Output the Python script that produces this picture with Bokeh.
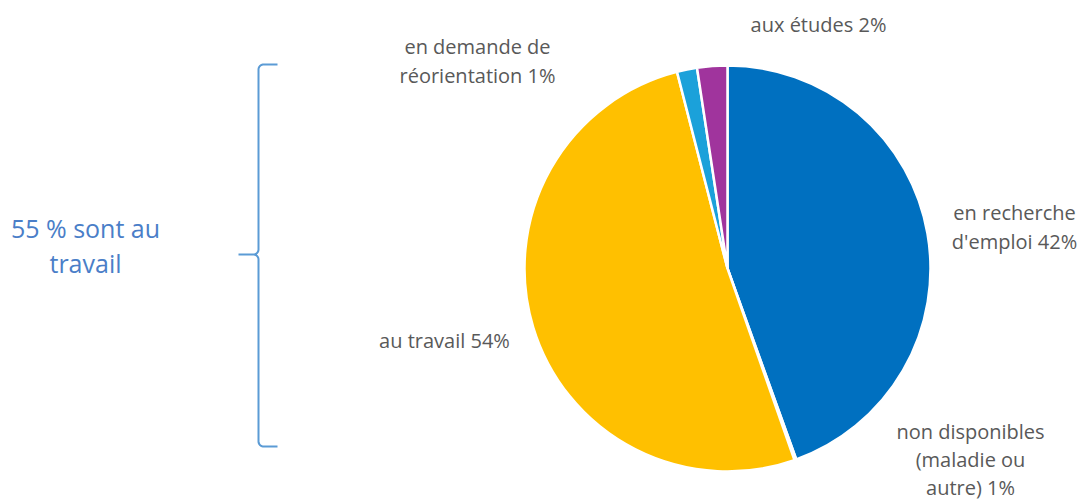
import numpy as np
from bokeh.plotting import figure
from bokeh.models import Range1d, ColumnDataSource
from bokeh.core.properties import value
from bokeh.embed import file_html
from bokeh.resources import INLINE

# ---- data ----
categories = ["en recherche d'emploi", "non disponibles (maladie ou autre)", "au travail",
              "en demande de réorientation", "aux études"]
shares = [44.5, 0.15, 51.35, 1.6, 2.4]
colors = ["#0070C0", "#FFFFFF", "#FFC000", "#1BA1DA", "#A0349D"]
label_lines = [
    ["en recherche", "d'emploi 42%"],
    ["non disponibles", "(maladie ou", "autre) 1%"],
    ["au travail 54%"],
    ["en demande de", "réorientation 1%"],
    ["aux études 2%"],
]
side_note = ["55 % sont au", "travail"]

W, H = 1083, 501
p = figure(width=W, height=H, output_backend="svg", toolbar_location=None,
           x_range=Range1d(0, W), y_range=Range1d(0, H),
           min_border=0)
p.axis.visible = False
p.grid.visible = False
p.outline_line_color = None
p.background_fill_color = "white"


def Y(py):
    return H - py

cx, cy, r = 727, Y(268), 203
vals = np.array(shares, dtype=float)
cum = np.concatenate([[0], np.cumsum(vals)]) / vals.sum() * 2 * np.pi
start = np.pi / 2 - cum[:-1]
end = np.pi / 2 - cum[1:]
src = ColumnDataSource(dict(start=start, end=end, color=colors, cat=categories))
p.wedge(x=cx, y=cy, radius=r, start_angle="start", end_angle="end", direction="clock",
        fill_color="color", line_color="white", line_width=2.5, source=src)

# labels
label_pos = [(1014, 212, 29), (970, 431, 28), (444, 340, 29), (477, 46, 29), (818, 24, 29)]
lx, ly, lt = [], [], []
for lines, (x0, y0, dy) in zip(label_lines, label_pos):
    for i, t in enumerate(lines):
        lx.append(x0)
        ly.append(Y(y0 + i * dy))
        lt.append(t)
p.text(x=lx, y=ly, text=lt, text_align="center", text_baseline="middle",
       text_font=value("Open Sans"), text_font_size="20px", text_color="#595959")

# side note
p.text(x=[85, 85], y=[Y(227), Y(262)], text=side_note, text_align="center",
       text_baseline="middle", text_font=value("Open Sans"), text_font_size="25px",
       text_color="#4A7EC8")

# brace
def arc(xc, yc, rad, a0, a1, n=12):
    a = np.linspace(a0, a1, n)
    return list(xc + rad * np.cos(a)), list(yc + rad * np.sin(a))

bx, by = [], []
bx += [277]; by += [Y(64)]
ax_, ay_ = arc(263, Y(69), 5, np.pi / 2, np.pi); bx += ax_; by += ay_
bx += [258]; by += [Y(249)]
ax_, ay_ = arc(253, Y(249), 5, 0, -np.pi / 2); bx += ax_; by += ay_
bx += [238]; by += [Y(254)]
bx += [253]; by += [Y(254)]
ax_, ay_ = arc(253, Y(259), 5, np.pi / 2, 0); bx += ax_; by += ay_
bx += [258]; by += [Y(441)]
ax_, ay_ = arc(263, Y(441), 5, np.pi, 3 * np.pi / 2); bx += ax_; by += ay_
bx += [277]; by += [Y(446)]
p.line(bx, by, line_color="#5B9BD5", line_width=2)

open("out.html", "w").write(file_html(p, INLINE))
